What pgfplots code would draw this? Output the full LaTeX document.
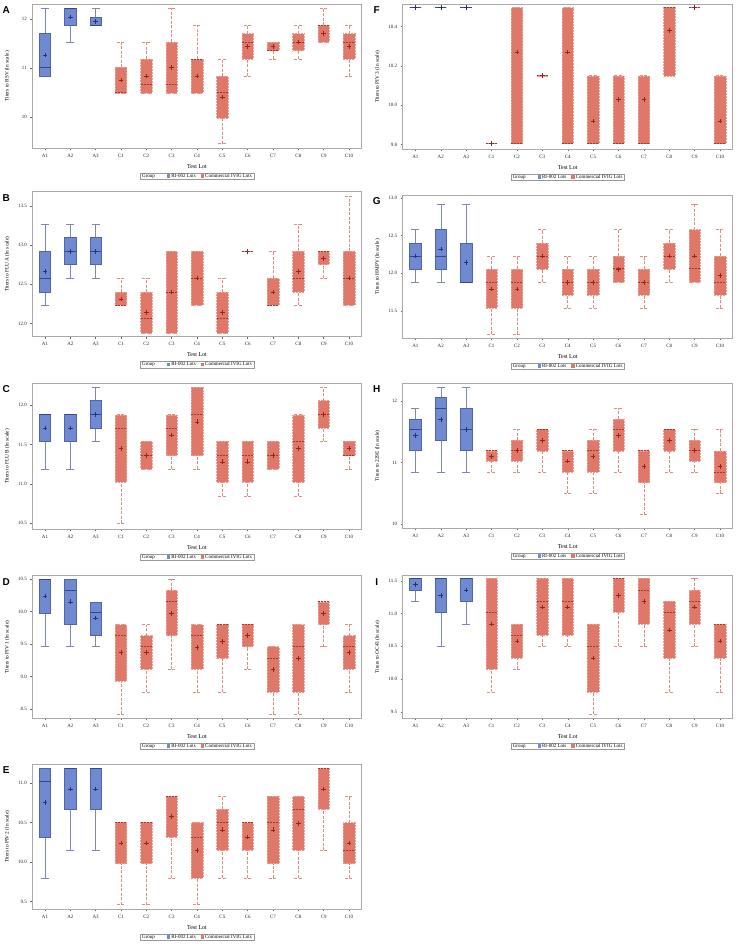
\documentclass[border=0pt]{standalone}
\usepackage{fontspec}
\setmainfont{Liberation Serif}
\setsansfont{Liberation Sans}
\usepackage{pgfplots}
\pgfplotsset{compat=1.18}

\definecolor{bluefill}{RGB}{112,138,210}
\definecolor{blueline}{RGB}{80,100,175}
\definecolor{bluewhisk}{RGB}{125,135,185}
\definecolor{bluemed}{RGB}{55,70,140}
\definecolor{bluemean}{RGB}{40,50,120}
\definecolor{redfill}{RGB}{224,120,105}
\definecolor{redline}{RGB}{238,160,148}
\definecolor{redwhisk}{RGB}{226,140,130}
\definecolor{redmed}{RGB}{165,55,45}
\definecolor{redmean}{RGB}{165,30,30}
\definecolor{framegray}{RGB}{170,170,170}

\pgfplotsset{
  bwhisk/.style={draw=bluewhisk, line width=0.5pt, solid, mark=none, forget plot},
  bboxs/.style={draw=blueline, fill=bluefill, line width=0.5pt, solid, mark=none, forget plot},
  bmed/.style={draw=bluemed, line width=0.7pt, solid, mark=none, forget plot},
  rwhisk/.style={draw=redwhisk, line width=0.5pt, dash pattern=on 3pt off 1.5pt, mark=none, forget plot},
  rboxs/.style={draw=redline, fill=redfill, line width=0.4pt, dash pattern=on 2pt off 1pt, mark=none, forget plot},
  rmed/.style={draw=redmed, line width=0.6pt, dash pattern=on 2pt off 1pt, mark=none, forget plot},
  bmean/.style={only marks, mark=+, mark size=2.3pt, color=bluemean, mark options={line width=0.5pt, solid}},
  rmean/.style={only marks, mark=+, mark size=2.3pt, color=redmean, mark options={line width=0.5pt, solid}},
  panel/.style={scale only axis, clip=false, xmin=0.5, xmax=13.5,
    xtick={1,...,13}, xticklabels={A1,A2,A3,C1,C2,C3,C4,C5,C6,C7,C8,C9,C10},
    tick pos=left, tick align=outside, major tick length=2pt,
    axis line style={draw=framegray, line width=0.6pt},
    tick style={draw=black!60, line width=0.4pt},
    tick label style={font=\fontsize{5}{6}\selectfont, text=black!85},
    /pgf/number format/assume math mode=true,
    yticklabel style={/pgf/number format/.cd, fixed, fixed zerofill, precision=1},
    xlabel={Test Lot},
    every axis x label/.style={at={(axis description cs:0.5,0)}, anchor=center, yshift=-18pt, font=\fontsize{6}{7}\selectfont},
    every axis y label/.style={at={(axis description cs:-0.076,0.5)}, anchor=center, rotate=90, font=\fontsize{5.3}{6}\selectfont},
  }
}

% box: #1 position, #2 lower whisker, #3 lower quartile, #4 median, #5 upper quartile, #6 upper whisker, #7 style prefix (b or r)
\newcommand{\BOX}[7]{%
  \pgfmathsetmacro\xl{#1-0.225}\pgfmathsetmacro\xr{#1+0.225}%
  \pgfmathsetmacro\cl{#1-0.16}\pgfmathsetmacro\cr{#1+0.16}%
  \addplot[#7whisk] coordinates {(#1,#2) (#1,#3)};
  \addplot[#7whisk] coordinates {(#1,#5) (#1,#6)};
  \addplot[#7whisk] coordinates {(\cl,#2) (\cr,#2)};
  \addplot[#7whisk] coordinates {(\cl,#6) (\cr,#6)};
  \addplot[#7boxs] coordinates {(\xl,#3) (\xr,#3) (\xr,#5) (\xl,#5)} -- cycle;
  \addplot[#7med] coordinates {(\xl,#4) (\xr,#4)};
}
\newcommand{\BB}[6]{\BOX{#1}{#2}{#3}{#4}{#5}{#6}{b}}
\newcommand{\RB}[6]{\BOX{#1}{#2}{#3}{#4}{#5}{#6}{r}}
\newcommand{\extras}[1]{%
  \node[font=\sffamily\bfseries\fontsize{10}{10}\selectfont, anchor=center, xshift=-26pt, yshift=-6pt] at (axis description cs:0,1) {#1};
  \node[draw=gray!80, line width=0.4pt, inner xsep=2pt, inner ysep=1pt, font=\fontsize{5}{5.5}\selectfont, anchor=center, yshift=-28pt] at (axis description cs:0.5,0) {Group\hspace{12pt}\textcolor{bluefill}{\rule{3.2pt}{3.2pt}} RI-002 Lots\hspace{5pt}\textcolor{redfill}{\rule{3.2pt}{3.2pt}} Commercial IVIG Lots};
}

\begin{document}
\begin{tikzpicture}
\useasboundingbox (0,0) rectangle (739pt,-944pt);

% ---------------- A: RSV
\begin{axis}[panel, at={(32.3pt,-4.3pt)}, anchor=north west, width=329.4pt, height=144pt,
  ymin=9.367, ymax=12.306, ytick={10,11,12}, yticklabel style={/pgf/number format/precision=0},
  ylabel={Titers to RSV (ln scale)}]
\BB{1}{10.84}{10.84}{11.02}{11.71}{12.23}
\BB{2}{11.54}{11.88}{12.23}{12.23}{12.23}
\BB{3}{11.88}{11.88}{11.88}{12.05}{12.23}
\RB{4}{10.50}{10.50}{10.50}{11.02}{11.54}
\RB{5}{10.50}{10.50}{10.67}{11.19}{11.54}
\RB{6}{10.50}{10.50}{10.67}{11.54}{12.23}
\RB{7}{10.50}{10.50}{11.19}{11.19}{11.88}
\RB{8}{9.46}{9.98}{10.50}{10.84}{11.19}
\RB{9}{10.84}{11.19}{11.54}{11.71}{11.88}
\RB{10}{11.19}{11.36}{11.36}{11.54}{11.54}
\RB{11}{11.19}{11.36}{11.54}{11.71}{11.88}
\RB{12}{11.54}{11.54}{11.88}{11.88}{12.23}
\RB{13}{10.84}{11.19}{11.54}{11.71}{11.88}
\addplot[bmean] coordinates {(1,11.27) (2,12.05) (3,11.96)};
\addplot[rmean] coordinates {(4,10.76) (5,10.84) (6,11.02) (7,10.84) (8,10.41) (9,11.45) (10,11.45) (11,11.54) (12,11.71) (13,11.45)};
\extras{A}
\end{axis}

% ---------------- B: FLU A
\begin{axis}[panel, at={(32.3pt,-191.7pt)}, anchor=north west, width=329.4pt, height=145pt,
  ymin=11.83, ymax=13.68, ytick={12,12.5,13,13.5},
  ylabel={Titers to FLU A (ln scale)}]
\BB{1}{12.23}{12.40}{12.58}{12.92}{13.27}
\BB{2}{12.58}{12.75}{12.92}{13.10}{13.27}
\BB{3}{12.58}{12.75}{12.92}{13.10}{13.27}
\RB{4}{12.23}{12.23}{12.23}{12.40}{12.58}
\RB{5}{11.88}{11.88}{12.06}{12.40}{12.58}
\RB{6}{11.88}{11.88}{12.40}{12.92}{12.92}
\RB{7}{12.23}{12.23}{12.58}{12.92}{12.92}
\RB{8}{11.88}{11.88}{12.06}{12.40}{12.58}
\RB{9}{12.92}{12.92}{12.92}{12.92}{12.92}
\RB{10}{12.23}{12.23}{12.23}{12.58}{12.92}
\RB{11}{12.23}{12.40}{12.58}{12.92}{13.27}
\RB{12}{12.58}{12.75}{12.92}{12.92}{12.92}
\RB{13}{12.23}{12.23}{12.58}{12.92}{13.62}
\addplot[bmean] coordinates {(1,12.66) (2,12.92) (3,12.92)};
\addplot[rmean] coordinates {(4,12.31) (5,12.14) (6,12.40) (7,12.58) (8,12.14) (9,12.92) (10,12.40) (11,12.66) (12,12.83) (13,12.58)};
\extras{B}
\end{axis}

% ---------------- C: FLU B
\begin{axis}[panel, at={(32.3pt,-383.3pt)}, anchor=north west, width=329.4pt, height=146pt,
  ymin=10.42, ymax=12.28, ytick={10.5,11,11.5,12},
  ylabel={Titers to FLU B (ln scale)}]
\BB{1}{11.19}{11.54}{11.88}{11.88}{11.88}
\BB{2}{11.19}{11.54}{11.88}{11.88}{11.88}
\BB{3}{11.54}{11.71}{11.88}{12.06}{12.23}
\RB{4}{10.50}{11.02}{11.71}{11.88}{11.88}
\RB{5}{11.19}{11.19}{11.36}{11.54}{11.54}
\RB{6}{11.19}{11.36}{11.71}{11.88}{11.88}
\RB{7}{11.19}{11.36}{11.88}{12.23}{12.23}
\RB{8}{10.84}{11.02}{11.36}{11.54}{11.54}
\RB{9}{10.84}{11.02}{11.36}{11.54}{11.54}
\RB{10}{11.19}{11.19}{11.36}{11.54}{11.54}
\RB{11}{10.84}{11.02}{11.54}{11.88}{11.88}
\RB{12}{11.54}{11.71}{11.88}{12.06}{12.23}
\RB{13}{11.19}{11.36}{11.36}{11.54}{11.54}
\addplot[bmean] coordinates {(1,11.71) (2,11.71) (3,11.88)};
\addplot[rmean] coordinates {(4,11.45) (5,11.36) (6,11.62) (7,11.79) (8,11.28) (9,11.28) (10,11.36) (11,11.45) (12,11.88) (13,11.45)};
\extras{C}
\end{axis}

% ---------------- D: PIV 1
\begin{axis}[panel, at={(32.3pt,-575.7pt)}, anchor=north west, width=329.4pt, height=142.6pt,
  ymin=8.36, ymax=10.55, ytick={8.5,9,9.5,10,10.5},
  ylabel={Titers to PIV 1 (ln scale)}]
\BB{1}{9.46}{9.98}{10.50}{10.50}{10.50}
\BB{2}{9.46}{9.80}{10.33}{10.50}{10.50}
\BB{3}{9.46}{9.63}{9.98}{10.15}{10.15}
\RB{4}{8.42}{8.93}{9.63}{9.80}{9.80}
\RB{5}{8.76}{9.11}{9.46}{9.63}{9.80}
\RB{6}{9.11}{9.63}{10.15}{10.33}{10.50}
\RB{7}{8.76}{9.11}{9.63}{9.80}{9.80}
\RB{8}{8.76}{9.28}{9.80}{9.80}{9.80}
\RB{9}{9.11}{9.46}{9.80}{9.80}{9.80}
\RB{10}{8.42}{8.76}{9.28}{9.46}{9.46}
\RB{11}{8.42}{8.76}{9.46}{9.80}{9.80}
\RB{12}{9.46}{9.80}{10.15}{10.15}{10.15}
\RB{13}{8.76}{9.11}{9.46}{9.63}{9.80}
\addplot[bmean] coordinates {(1,10.24) (2,10.15) (3,9.90)};
\addplot[rmean] coordinates {(4,9.37) (5,9.37) (6,9.97) (7,9.45) (8,9.54) (9,9.63) (10,9.11) (11,9.28) (12,9.97) (13,9.37)};
\extras{D}
\end{axis}

% ---------------- E: PIV 2
\begin{axis}[panel, at={(32.3pt,-764pt)}, anchor=north west, width=329.4pt, height=145.3pt,
  ymin=9.40, ymax=11.245, ytick={9.5,10,10.5,11},
  ylabel={Titers to PIV 2 (ln scale)}]
\BB{1}{9.80}{10.32}{11.02}{11.19}{11.19}
\BB{2}{10.15}{10.67}{11.19}{11.19}{11.19}
\BB{3}{10.15}{10.67}{11.19}{11.19}{11.19}
\RB{4}{9.46}{9.98}{10.50}{10.50}{10.50}
\RB{5}{9.46}{9.98}{10.50}{10.50}{10.50}
\RB{6}{9.80}{10.32}{10.84}{10.84}{10.84}
\RB{7}{9.46}{9.80}{10.32}{10.50}{10.50}
\RB{8}{9.80}{10.15}{10.50}{10.67}{10.84}
\RB{9}{9.80}{10.15}{10.50}{10.50}{10.50}
\RB{10}{9.80}{9.98}{10.50}{10.84}{10.84}
\RB{11}{9.80}{10.15}{10.67}{10.84}{10.84}
\RB{12}{10.15}{10.67}{11.19}{11.19}{11.19}
\RB{13}{9.80}{9.98}{10.15}{10.50}{10.84}
\addplot[bmean] coordinates {(1,10.76) (2,10.93) (3,10.93)};
\addplot[rmean] coordinates {(4,10.24) (5,10.24) (6,10.58) (7,10.15) (8,10.41) (9,10.32) (10,10.41) (11,10.49) (12,10.93) (13,10.24)};
\extras{E}
\end{axis}

% ---------------- F: PIV 3
\begin{axis}[panel, at={(402.7pt,-4.3pt)}, anchor=north west, width=330pt, height=145pt,
  ymin=9.775, ymax=10.514, ytick={9.8,10,10.2,10.4},
  ylabel={Titers to PIV 3 (ln scale)}]
\BB{1}{10.497}{10.497}{10.497}{10.497}{10.497}
\BB{2}{10.497}{10.497}{10.497}{10.497}{10.497}
\BB{3}{10.497}{10.497}{10.497}{10.497}{10.497}
\RB{4}{9.804}{9.804}{9.804}{9.804}{9.804}
\RB{5}{9.804}{9.804}{9.804}{10.497}{10.497}
\RB{6}{10.150}{10.150}{10.150}{10.150}{10.150}
\RB{7}{9.804}{9.804}{9.804}{10.497}{10.497}
\RB{8}{9.804}{9.804}{9.804}{10.150}{10.150}
\RB{9}{9.804}{9.804}{9.804}{10.150}{10.150}
\RB{10}{9.804}{9.804}{9.804}{10.150}{10.150}
\RB{11}{10.150}{10.150}{10.497}{10.497}{10.497}
\RB{12}{10.497}{10.497}{10.497}{10.497}{10.497}
\RB{13}{9.804}{9.804}{9.804}{10.150}{10.150}
\addplot[bmean] coordinates {(1,10.497) (2,10.497) (3,10.497)};
\addplot[rmean] coordinates {(4,9.804) (5,10.27) (6,10.150) (7,10.27) (8,9.92) (9,10.03) (10,10.03) (11,10.38) (12,10.497) (13,9.92)};
\extras{F}
\end{axis}

% ---------------- G: HMPV
\begin{axis}[panel, at={(402.7pt,-195pt)}, anchor=north west, width=330pt, height=143.3pt,
  ymin=11.136, ymax=13.04, ytick={11.5,12,12.5,13},
  ylabel={Titers to HMPV (ln scale)}]
\BB{1}{11.88}{12.06}{12.23}{12.40}{12.58}
\BB{2}{11.88}{12.06}{12.23}{12.58}{12.92}
\BB{3}{11.88}{11.88}{11.88}{12.40}{12.92}
\RB{4}{11.19}{11.54}{11.88}{12.06}{12.23}
\RB{5}{11.19}{11.54}{11.88}{12.06}{12.23}
\RB{6}{11.88}{12.06}{12.23}{12.40}{12.58}
\RB{7}{11.54}{11.71}{11.88}{12.06}{12.23}
\RB{8}{11.54}{11.71}{11.88}{12.06}{12.23}
\RB{9}{11.88}{11.88}{12.06}{12.23}{12.58}
\RB{10}{11.54}{11.71}{11.88}{12.06}{12.23}
\RB{11}{11.88}{12.06}{12.23}{12.40}{12.58}
\RB{12}{11.88}{11.88}{12.06}{12.58}{12.92}
\RB{13}{11.54}{11.71}{11.88}{12.23}{12.58}
\addplot[bmean] coordinates {(1,12.23) (2,12.32) (3,12.14)};
\addplot[rmean] coordinates {(4,11.79) (5,11.79) (6,12.23) (7,11.88) (8,11.88) (9,12.05) (10,11.88) (11,12.23) (12,12.23) (13,11.97)};
\extras{G}
\end{axis}

% ---------------- H: 229E
\begin{axis}[panel, at={(402.7pt,-383.3pt)}, anchor=north west, width=330pt, height=145pt,
  ymin=9.925, ymax=12.29, ytick={10,11,12}, yticklabel style={/pgf/number format/precision=0},
  ylabel={Titers to 229E (ln scale)}]
\BB{1}{10.84}{11.19}{11.54}{11.71}{11.88}
\BB{2}{10.84}{11.36}{11.88}{12.06}{12.23}
\BB{3}{10.84}{11.19}{11.54}{11.88}{12.23}
\RB{4}{10.84}{11.02}{11.19}{11.19}{11.19}
\RB{5}{10.84}{11.02}{11.19}{11.36}{11.54}
\RB{6}{10.84}{11.19}{11.54}{11.54}{11.54}
\RB{7}{10.50}{10.84}{11.19}{11.19}{11.19}
\RB{8}{10.50}{10.84}{11.19}{11.36}{11.54}
\RB{9}{10.84}{11.19}{11.54}{11.71}{11.88}
\RB{10}{10.15}{10.67}{11.19}{11.19}{11.19}
\RB{11}{10.84}{11.19}{11.54}{11.54}{11.54}
\RB{12}{10.84}{11.02}{11.19}{11.36}{11.54}
\RB{13}{10.50}{10.67}{10.84}{11.19}{11.54}
\addplot[bmean] coordinates {(1,11.44) (2,11.70) (3,11.54)};
\addplot[rmean] coordinates {(4,11.10) (5,11.19) (6,11.36) (7,11.02) (8,11.10) (9,11.44) (10,10.93) (11,11.36) (12,11.19) (13,10.93)};
\extras{H}
\end{axis}

% ---------------- I: OC43
\begin{axis}[panel, at={(402.7pt,-575.7pt)}, anchor=north west, width=330pt, height=142.6pt,
  ymin=9.40, ymax=11.58, ytick={9.5,10,10.5,11,11.5},
  ylabel={Titers to OC43 (ln scale)}]
\BB{1}{11.19}{11.36}{11.54}{11.54}{11.54}
\BB{2}{10.50}{11.02}{11.54}{11.54}{11.54}
\BB{3}{10.84}{11.19}{11.54}{11.54}{11.54}
\RB{4}{9.80}{10.15}{11.02}{11.54}{11.54}
\RB{5}{10.15}{10.32}{10.67}{10.84}{10.84}
\RB{6}{10.50}{10.67}{11.19}{11.54}{11.54}
\RB{7}{10.50}{10.67}{11.19}{11.54}{11.54}
\RB{8}{9.46}{9.80}{10.50}{10.84}{10.84}
\RB{9}{10.50}{11.02}{11.54}{11.54}{11.54}
\RB{10}{10.50}{10.84}{11.36}{11.54}{11.54}
\RB{11}{9.80}{10.32}{11.02}{11.19}{11.19}
\RB{12}{10.50}{10.84}{11.19}{11.36}{11.54}
\RB{13}{9.80}{10.32}{10.84}{10.84}{10.84}
\addplot[bmean] coordinates {(1,11.45) (2,11.28) (3,11.36)};
\addplot[rmean] coordinates {(4,10.84) (5,10.58) (6,11.10) (7,11.10) (8,10.32) (9,11.28) (10,11.19) (11,10.75) (12,11.10) (13,10.58)};
\extras{I}
\end{axis}
\end{tikzpicture}
\end{document}
